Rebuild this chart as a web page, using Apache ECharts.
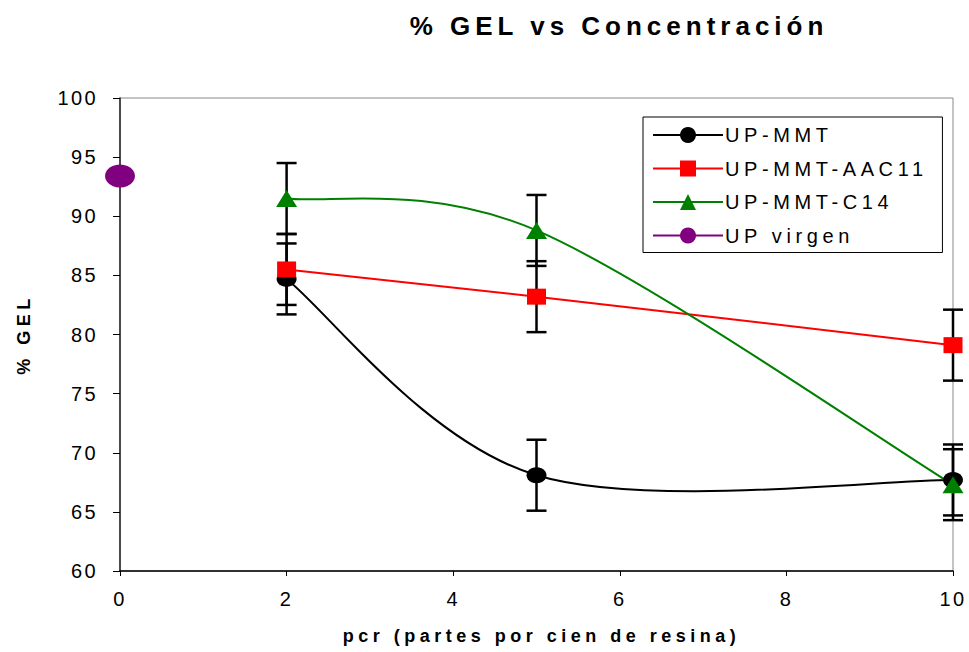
<!DOCTYPE html>
<html>
<head>
<meta charset="utf-8">
<script src="https://cdn.jsdelivr.net/npm/echarts@6/dist/echarts.min.js"></script>
<style>
  html, body { margin: 0; padding: 0; background: #fff; }
  #chart { width: 969px; height: 652px; }
  #chart text { letter-spacing: 2.4px !important; }
</style>
</head>
<body>
<div id="chart"></div>
<script>
// Gel content (%) against filler loading (pcr)
const concentrations = [2, 5, 10];
const gelMMT = [84.7, 68.1, 67.7];
const gelAAC11 = [85.5, 83.2, 79.1];
const gelC14 = [91.5, 88.8, 67.3];
const errMMT = [3, 3, 3];
const errAAC11 = [3, 3, 3];
const errC14 = [3, 3, 3];
const virginX = [0];
const gelVirgin = [93.4];
const seriesNames = ['UP-MMT', 'UP-MMT-AAC11', 'UP-MMT-C14', 'UP virgen'];

const FONT = '"Liberation Sans", Arial, sans-serif';

const pairs = (xs, ys) => xs.map((x, i) => [x, ys[i]]);
const errRows = (xs, ys, es) => xs.map((x, i) => [x, ys[i], es[i]]);

const errorData = [].concat(
  errRows(concentrations, gelMMT, errMMT),
  errRows(concentrations, gelAAC11, errAAC11),
  errRows(concentrations, gelC14, errC14)
);

const chart = echarts.init(document.getElementById('chart'), null, { renderer: 'svg' });

// Marker-only line series: carries the symbols and the legend entry
function markerSeries(name, data, color, symbol, size) {
  return {
    name: name, type: 'line', data: data, z: 3,
    symbol: symbol, symbolSize: size, showAllSymbol: true,
    lineStyle: { color: color, width: 2, opacity: 0 },
    itemStyle: { color: color },
    emphasis: { disabled: true }
  };
}

// Smoothed connecting curve (Catmull-Rom style cubic segments in pixel space)
function curveSeries(data, color) {
  return {
    type: 'custom', z: 2, silent: true, data: data, encode: { x: 0, y: 1 },
    renderItem: function (params, api) {
      if (params.dataIndex !== 0) return { type: 'group', children: [] };
      const p = data.map(d => api.coord(d));
      const n = p.length;
      let d = 'M' + p[0][0] + ' ' + p[0][1];
      for (let i = 0; i < n - 1; i++) {
        const p0 = p[Math.max(i - 1, 0)], p1 = p[i], p2 = p[i + 1], p3 = p[Math.min(i + 2, n - 1)];
        const c1x = p1[0] + (p2[0] - p0[0]) / 6, c1y = p1[1] + (p2[1] - p0[1]) / 6;
        const c2x = p2[0] - (p3[0] - p1[0]) / 6, c2y = p2[1] - (p3[1] - p1[1]) / 6;
        d += ' C' + c1x + ' ' + c1y + ' ' + c2x + ' ' + c2y + ' ' + p2[0] + ' ' + p2[1];
      }
      return { type: 'path', shape: { pathData: d }, style: { fill: 'none', stroke: color, lineWidth: 2 } };
    }
  };
}

chart.setOption({
  animation: false,
  backgroundColor: '#fff',
  title: {
    text: '% GEL vs Concentración', left: 614, top: 8, textAlign: 'center',
    textStyle: { fontFamily: FONT, fontSize: 26, fontWeight: 'bold', color: '#000' }
  },
  legend: {
    data: seriesNames, orient: 'vertical', left: 643, top: 117,
    itemWidth: 70, itemHeight: 20, itemGap: 13.5, padding: [8, 70, 7, 9],
    borderColor: '#000', borderWidth: 1, selectedMode: false,
    lineStyle: { opacity: 1, width: 2 },
    textStyle: { fontFamily: FONT, fontSize: 20, color: '#000', padding: [0, 0, 0, -3] }
  },
  grid: { left: 120, right: 16, top: 98, bottom: 81, show: true, borderColor: '#888', borderWidth: 1, backgroundColor: 'transparent' },
  xAxis: {
    type: 'value', min: 0, max: 10, interval: 2,
    name: 'pcr (partes por cien de resina)', nameLocation: 'middle', nameGap: 56,
    nameTextStyle: { fontFamily: FONT, fontSize: 18, fontWeight: 'bold', color: '#000', padding: [0, 0, 0, 10] },
    axisLine: { show: true, lineStyle: { color: '#000', width: 1.5 } },
    axisTick: { show: true, length: 5, lineStyle: { color: '#000' } },
    axisLabel: { fontFamily: FONT, fontSize: 20, color: '#000', margin: 18 },
    splitLine: { show: false }
  },
  yAxis: {
    type: 'value', min: 60, max: 100, interval: 5,
    name: '% GEL', nameLocation: 'middle', nameRotate: 90, nameGap: 87,
    nameTextStyle: { fontFamily: FONT, fontSize: 18, fontWeight: 'bold', color: '#000' },
    axisLine: { show: true, lineStyle: { color: '#222', width: 1.5 } },
    axisTick: { show: true, length: 7, lineStyle: { color: '#000' } },
    axisLabel: { fontFamily: FONT, fontSize: 20, color: '#000', margin: 22 },
    splitLine: { show: false }
  },
  series: [
    {
      name: 'error', type: 'custom', z: 1, silent: true, data: errorData, encode: { x: 0, y: 1 },
      renderItem: function (params, api) {
        const x = api.value(0), y = api.value(1), e = api.value(2);
        const top = api.coord([x, y + e]);
        const bot = api.coord([x, y - e]);
        const half = 10;
        const st = { stroke: '#000', lineWidth: 2.5 };
        return {
          type: 'group',
          children: [
            { type: 'line', shape: { x1: top[0], y1: top[1], x2: bot[0], y2: bot[1] }, style: st },
            { type: 'line', shape: { x1: top[0] - half, y1: top[1], x2: top[0] + half, y2: top[1] }, style: st },
            { type: 'line', shape: { x1: bot[0] - half, y1: bot[1], x2: bot[0] + half, y2: bot[1] }, style: st }
          ]
        };
      }
    },
    curveSeries(pairs(concentrations, gelMMT), '#000000'),
    curveSeries(pairs(concentrations, gelAAC11), '#ff0000'),
    curveSeries(pairs(concentrations, gelC14), '#008000'),
    markerSeries(seriesNames[0], pairs(concentrations, gelMMT), '#000000', 'circle', [20, 16]),
    markerSeries(seriesNames[1], pairs(concentrations, gelAAC11), '#ff0000', 'rect', [19, 16]),
    markerSeries(seriesNames[2], pairs(concentrations, gelC14), '#008000', 'triangle', [21, 17]),
    markerSeries(seriesNames[3], pairs(virginX, gelVirgin), '#800080', 'circle', [30, 23])
  ]
});

// Glyph tracking: wide for title and axis names, medium for legend entries
function applyTracking() {
  const bySize = { 26: 5, 18: 4.5 };
  document.querySelectorAll('#chart text').forEach(function (t) {
    const fs = Math.round(parseFloat(getComputedStyle(t).fontSize));
    let ls = bySize[fs];
    if (ls === undefined && seriesNames.indexOf(t.textContent) >= 0) ls = 4.6;
    if (ls !== undefined) t.style.setProperty('letter-spacing', ls + 'px', 'important');
  });
}
chart.on('finished', applyTracking);
applyTracking();
setTimeout(applyTracking, 30);
setTimeout(applyTracking, 200);
</script>
</body>
</html>
